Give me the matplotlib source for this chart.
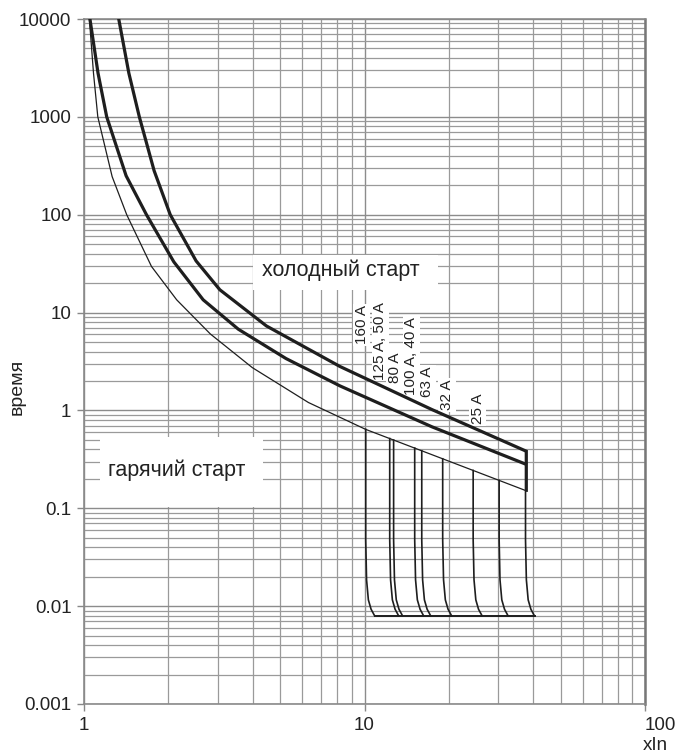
import matplotlib.pyplot as plt
import numpy as np
from matplotlib.patches import Rectangle
from matplotlib.ticker import LogLocator, NullFormatter

# upper limit, cold start (thick)
cold_x = [1.33, 1.445, 1.575, 1.778, 2.03, 2.51, 3.05, 4.47, 8.18, 17.4, 37.5]
cold_t = [10000, 2800, 1000, 282, 100, 33.7, 17.1, 7.3, 2.81, 1.02, 0.386]
# lower limit cold / upper hot (thick)
mid_x = [1.05, 1.122, 1.205, 1.413, 1.67, 2.09, 2.66, 3.55, 5.25, 8.18, 17.4, 37.5]
mid_t = [10000, 2800, 1000, 250, 100, 33, 13.5, 6.76, 3.39, 1.78, 0.68, 0.283]
# lower limit, hot start (thin)
hot_x = [1.045, 1.081, 1.12, 1.26, 1.42, 1.74, 2.14, 2.82, 3.98, 6.31, 10.1, 18.6, 37.5]
hot_t = [10000, 2800, 1000, 245, 100, 29.6, 13.5, 6.05, 2.74, 1.205, 0.64, 0.328, 0.152]

# instantaneous trip lines (xIn where they drop)
trip_x = [10.1, 12.3, 12.7, 15.1, 16.0, 19.0, 24.4, 30.2, 37.6]
trip_min = 0.008
knee_t = [0.0476, 0.0186, 0.0116, 0.0093, 0.008]
knee_k = [1.0, 1.007, 1.022, 1.045, 1.075]

amp_labels = ['160 A', '125 A, 50 A', '80 A', '100 A, 40 A', '63 A', '32 A', '25 A']
amp_pos = [(9.77, 7.48), (11.38, 5.14), (12.8, 2.72), (14.7, 3.61),
           (16.7, 1.96), (19.7, 1.44), (25.3, 1.04)]

yticks = [0.001, 0.01, 0.1, 1, 10, 100, 1000, 10000]
ylabels = ['0.001', '0.01', '0.1', '1', '10', '100', '1000', '10000']
xticks = [1, 10, 100]
xlabels = ['1', '10', '100']

plt.rcParams['font.family'] = ['Liberation Sans', 'DejaVu Sans']

fig = plt.figure(figsize=(6.79, 7.56), dpi=100)
ax = fig.add_axes([84 / 679, 52 / 756, 561 / 679, 685 / 756])
ax.set_xscale('log')
ax.set_yscale('log')
ax.set_xlim(1, 100)
ax.set_ylim(0.001, 10000)

ax.xaxis.set_minor_locator(LogLocator(base=10, subs=range(2, 10), numticks=20))
ax.yaxis.set_minor_locator(LogLocator(base=10, subs=range(2, 10), numticks=20))
ax.xaxis.set_minor_formatter(NullFormatter())
ax.yaxis.set_minor_formatter(NullFormatter())
ax.grid(which='major', color='#8c8c8c', lw=1.0, zorder=0)
ax.grid(which='minor', color='#9a9a9a', lw=0.9, zorder=0)
ax.set_axisbelow(True)

ax.set_yticks(yticks, ylabels)
ax.set_xticks(xticks, xlabels)
ax.tick_params(which='major', length=5, width=1, color='#888888', labelsize=13.5,
               labelcolor='#222222', pad=4)
ax.tick_params(which='minor', length=0)
ax.get_xticklabels()[-1].set_horizontalalignment('left')
for s in ax.spines.values():
    s.set_color('#8a8a8a')
    s.set_linewidth(1.2)
ax.spines['right'].set_color('#777777')
ax.spines['right'].set_linewidth(1.8)

ax.set_ylabel('время', fontsize=14, color='#222222')
ax.yaxis.set_label_coords(-0.104, 0.463)
fig.text(655 / 679, 1 - 745 / 756, 'xIn', fontsize=13.5, color='#222222',
         ha='center', va='center')

# white boxes behind the region labels
ax.add_patch(Rectangle((0.0285, 0.2876), 0.29, 0.102, transform=ax.transAxes,
                       facecolor='white', edgecolor='none', zorder=1))
ax.text(0.0428, 0.3416, 'гарячий старт', transform=ax.transAxes, fontsize=15.5,
        color='#222222', ha='left', va='center', zorder=2)
ax.add_patch(Rectangle((0.301, 0.604), 0.33, 0.052, transform=ax.transAxes,
                       facecolor='white', edgecolor='none', zorder=1))
ax.text(0.317, 0.6336, 'холодный старт', transform=ax.transAxes, fontsize=15.5,
        color='#222222', ha='left', va='center', zorder=2)

for lab, (px, py) in zip(amp_labels, amp_pos):
    ax.text(px, py, lab, rotation=90, fontsize=11, color='#222222', ha='center',
            va='center', zorder=2,
            bbox=dict(facecolor='white', edgecolor='none', pad=1.2))

ink = '#1e1e1e'
ax.plot(cold_x, cold_t, color=ink, lw=2.3, zorder=4, solid_joinstyle='round')
ax.plot(mid_x, mid_t, color=ink, lw=2.3, zorder=4, solid_joinstyle='round')
ax.plot(hot_x, hot_t, color=ink, lw=0.9, zorder=4, solid_joinstyle='round')

# instantaneous trip curves
lhx, lht = np.log10(hot_x), np.log10(hot_t)
for i, xc in enumerate(trip_x):
    if i == len(trip_x) - 1:
        top = cold_t[-1]
        xc = cold_x[-1]
    else:
        top = 10 ** np.interp(np.log10(xc), lhx, lht)
    xs = [xc] + [xc * k for k in knee_k]
    ts = [top] + knee_t
    ax.plot(xs, ts, color=ink, lw=1.2, zorder=3)
ax.plot([trip_x[0] * knee_k[-1], trip_x[-1] * knee_k[-1]], [trip_min, trip_min],
        color=ink, lw=1.4, zorder=3)
# closing edge at the band end
ax.plot([cold_x[-1], cold_x[-1]], [cold_t[-1], hot_t[-1]], color=ink, lw=2.0, zorder=4)

fig.savefig('out.png', dpi=100)
